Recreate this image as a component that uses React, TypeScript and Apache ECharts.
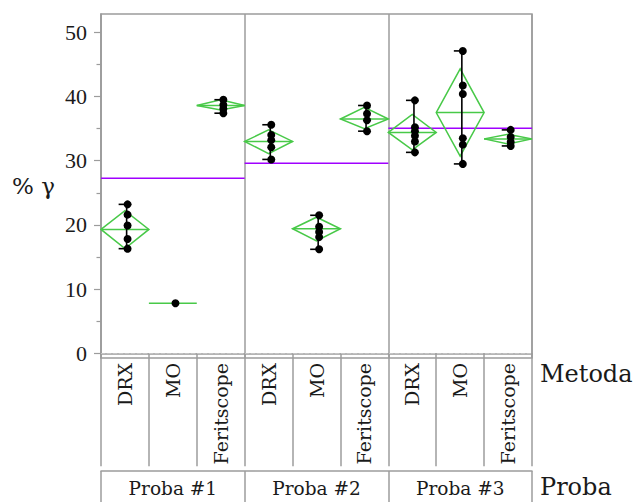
import React, { useEffect, useRef } from 'react';
import * as echarts from 'echarts';

// ---- data ----
const probas = ['Proba #1', 'Proba #2', 'Proba #3'];
const metody = ['DRX', 'MO', 'Feritscope'];

const p1DRX = [23.2, 21.6, 19.9, 17.8, 16.3];
const p1MO = [7.8];
const p1Fer = [39.5, 38.7, 38.1, 37.4];
const p2DRX = [35.6, 34.0, 33.2, 32.1, 30.2];
const p2MO = [21.5, 19.7, 18.9, 18.1, 16.2];
const p2Fer = [38.6, 37.3, 36.3, 34.6];
const p3DRX = [39.4, 35.2, 34.6, 33.9, 33.0, 31.3];
const p3MO = [47.1, 41.7, 40.4, 33.5, 32.5, 29.5];
const p3Fer = [34.8, 33.7, 32.9, 32.3];

const cellPoints = [p1DRX, p1MO, p1Fer, p2DRX, p2MO, p2Fer, p3DRX, p3MO, p3Fer];

// means diamonds: mean, lower and upper confidence limits
const diamondMean = [19.3, 7.8, 38.6, 33.0, 19.4, 36.5, 34.4, 37.5, 33.4];
const diamondLow = [16.3, 7.8, 37.9, 31.1, 17.5, 35.0, 31.7, 30.7, 32.6];
const diamondHigh = [22.2, 7.8, 39.5, 34.8, 21.2, 38.3, 37.2, 44.3, 34.1];

const grandMeans = [27.25, 29.6, 35.05];

const yTicks = [0, 10, 20, 30, 40, 50];
const yMinorTicks = [5, 15, 25, 35, 45];

const cellLabels = probas.flatMap(() => metody);

const FONT = 'DejaVu Serif';
const NUMFONT = 'Liberation Serif';
const GRAY = '#9c9c9c';
const TEXT = '#1a1a1a';
const GREEN = '#48c948';
const PURPLE = '#a000ff';

export default function App() {
  const ref = useRef<HTMLDivElement>(null);

  useEffect(() => {
    if (!ref.current) return;
    const chart = echarts.init(ref.current, null, { renderer: 'svg' });

    const diamondData = diamondMean.map((m, i) => [i, m, diamondLow[i], diamondHigh[i]]);
    const rangeData = cellPoints.map((pts, i) => [i, Math.min(...pts), Math.max(...pts)]);
    const pointData: number[][] = [];
    cellPoints.forEach((pts, i) => pts.forEach((v) => pointData.push([i + 0.555, v])));
    const grandData = grandMeans.map((g, p) => [p, g]);

    const option: any = {
      animation: false,
      grid: {
        left: 101,
        top: 14,
        width: 431,
        height: 344,
        show: true,
        borderColor: GRAY,
        borderWidth: 1.5,
        outerBoundsMode: 'none',
        containLabel: false,
      },
      xAxis: [
        {
          type: 'value',
          min: 0,
          max: 9,
          interval: 3,
          position: 'bottom',
          axisLine: { show: false },
          axisTick: { show: false },
          axisLabel: { show: false },
          splitLine: { show: true, lineStyle: { color: GRAY, width: 1.5 } },
        },
        {
          type: 'category',
          data: cellLabels,
          position: 'bottom',
          offset: 0,
          boundaryGap: true,
          axisLine: { show: true, lineStyle: { color: GRAY, width: 1.5 } },
          axisTick: { show: true, interval: 0, length: 113, lineStyle: { color: GRAY, width: 1.5 } },
          axisLabel: {
            interval: 0,
            rotate: 90,
            margin: 5,
            fontSize: 19,
            fontFamily: FONT,
            color: TEXT,
          },
          splitLine: { show: false },
          name: 'Metoda',
          nameLocation: 'end',
          nameGap: 8,
          nameTextStyle: {
            fontSize: 24,
            fontFamily: FONT,
            color: TEXT,
            verticalAlign: 'top',
            padding: [9, 0, 0, 0],
          },
        },
        {
          type: 'category',
          data: probas,
          position: 'bottom',
          offset: 113,
          boundaryGap: true,
          axisLine: { show: true, lineStyle: { color: GRAY, width: 1.5 } },
          axisTick: { show: true, interval: 0, length: 40, lineStyle: { color: GRAY, width: 1.5 } },
          axisLabel: {
            interval: 0,
            margin: 8,
            fontSize: 18.5,
            fontFamily: FONT,
            color: TEXT,
          },
          splitLine: { show: false },
          name: 'Proba',
          nameLocation: 'end',
          nameGap: 8,
          nameTextStyle: {
            fontSize: 24,
            fontFamily: FONT,
            color: TEXT,
            verticalAlign: 'top',
            padding: [4, 0, 0, 0],
          },
        },
      ],
      yAxis: [
        {
          type: 'value',
          min: -0.73,
          max: 52.85,
          position: 'left',
          axisLine: { show: true, lineStyle: { color: GRAY, width: 1.5 } },
          axisTick: { show: true, customValues: yTicks, length: 7, lineStyle: { color: GRAY, width: 1.2 } },
          axisLabel: {
            customValues: yTicks,
            margin: 14,
            fontSize: 22,
            fontFamily: NUMFONT,
            color: TEXT,
          },
          splitLine: { show: false },
          name: '% γ',
          nameLocation: 'middle',
          nameRotate: 0,
          nameGap: 46,
          nameTextStyle: { fontSize: 23, fontFamily: FONT, color: TEXT },
        },
        {
          type: 'value',
          min: -0.73,
          max: 52.85,
          position: 'left',
          axisLine: { show: false },
          axisTick: { show: true, customValues: yMinorTicks, length: 4.5, lineStyle: { color: GRAY, width: 1.2 } },
          axisLabel: { show: false },
          splitLine: { show: false },
        },
      ],
      series: [
        {
          type: 'custom',
          name: 'grand mean',
          xAxisIndex: 0,
          yAxisIndex: 0,
          data: grandData,
          renderItem: (params: any, api: any) => {
            const p = api.value(0);
            const g = api.value(1);
            const a = api.coord([p * 3, g]);
            const b = api.coord([p * 3 + 3, g]);
            return {
              type: 'line',
              shape: { x1: a[0], y1: a[1], x2: b[0], y2: b[1] },
              style: { stroke: PURPLE, lineWidth: 1.5 },
            };
          },
          silent: true,
        },
        {
          type: 'custom',
          name: 'diamonds',
          xAxisIndex: 0,
          yAxisIndex: 0,
          data: diamondData,
          renderItem: (params: any, api: any) => {
            const i = api.value(0);
            const m = api.value(1);
            const lo = api.value(2);
            const hi = api.value(3);
            const L = api.coord([i, m]);
            const R = api.coord([i + 1, m]);
            const children: any[] = [
              {
                type: 'line',
                shape: { x1: L[0], y1: L[1], x2: R[0], y2: R[1] },
                style: { stroke: GREEN, lineWidth: 1.5 },
              },
            ];
            if (hi > lo) {
              const T = api.coord([i + 0.5, hi]);
              const B = api.coord([i + 0.5, lo]);
              children.push({
                type: 'polygon',
                shape: { points: [L, T, R, B] },
                style: { fill: 'none', stroke: GREEN, lineWidth: 1.5 },
              });
            }
            return { type: 'group', children };
          },
          silent: true,
        },
        {
          type: 'custom',
          name: 'ranges',
          xAxisIndex: 0,
          yAxisIndex: 0,
          data: rangeData,
          renderItem: (params: any, api: any) => {
            const i = api.value(0);
            const mn = api.value(1);
            const mx = api.value(2);
            if (mx <= mn) return { type: 'group', children: [] };
            const T = api.coord([i + 0.535, mx]);
            const B = api.coord([i + 0.535, mn]);
            const st = { stroke: '#000', lineWidth: 1.6 };
            return {
              type: 'group',
              children: [
                { type: 'line', shape: { x1: T[0], y1: T[1], x2: B[0], y2: B[1] }, style: st },
                { type: 'line', shape: { x1: T[0] - 8, y1: T[1], x2: T[0], y2: T[1] }, style: st },
                { type: 'line', shape: { x1: B[0] - 8, y1: B[1], x2: B[0], y2: B[1] }, style: st },
              ],
            };
          },
          silent: true,
        },
        {
          type: 'scatter',
          name: 'points',
          xAxisIndex: 0,
          yAxisIndex: 0,
          data: pointData,
          symbol: 'circle',
          symbolSize: 8,
          itemStyle: { color: '#000', opacity: 1 },
          silent: true,
          markLine: {
            silent: true,
            symbol: ['none', 'none'],
            label: { show: false },
            lineStyle: { type: 'dashed', color: '#c4c4c4', width: 1 },
            data: [{ yAxis: 0 }],
          },
        },
      ],
    };

    chart.setOption(option);
    return () => chart.dispose();
  }, []);

  return (
    <div
      ref={ref}
      style={{ position: 'fixed', left: 0, top: 0, width: 633, height: 502, background: '#fff' }}
    />
  );
}
